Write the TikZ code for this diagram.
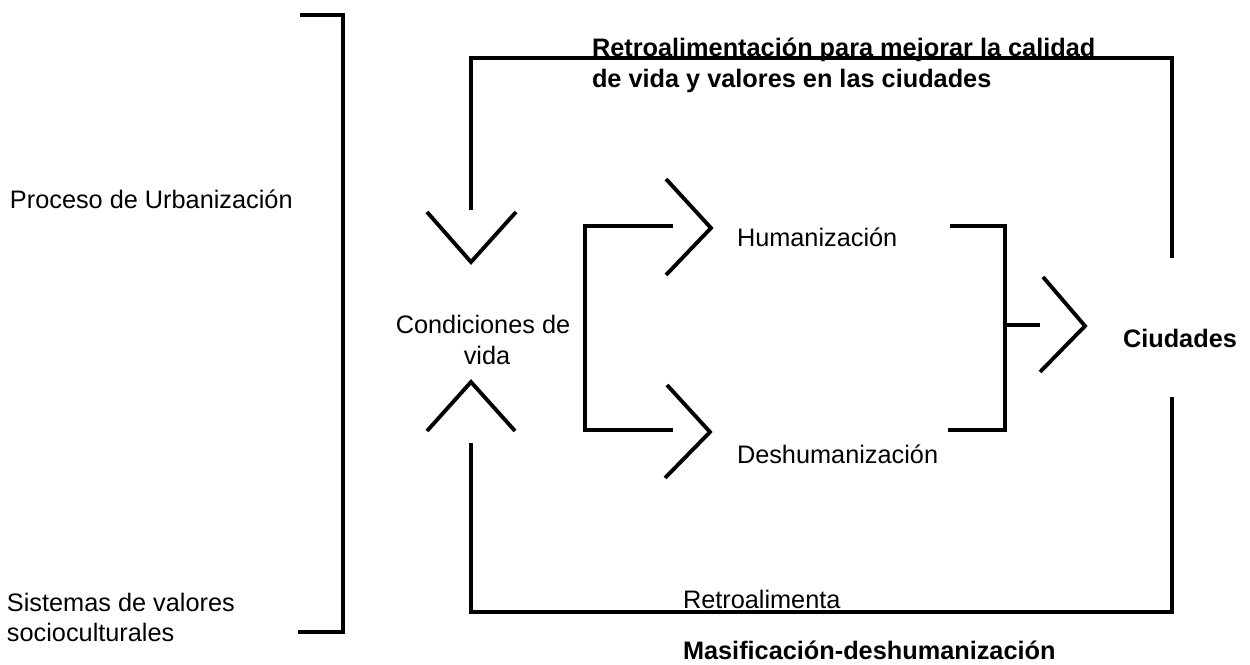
\documentclass[tikz,border=0pt]{standalone}
\usepackage{fontspec}
\setmainfont{Liberation Sans}
\tikzset{
  wire/.style={line width=2.3pt, line join=miter},
  chev/.style={line width=2.2pt, line join=miter},
  lbl/.style={inner sep=0pt, outer sep=0pt, anchor=base west, font=\fontsize{14.4}{17}\selectfont},
  blbl/.style={lbl, font=\fontsize{14.4}{17}\selectfont\bfseries},
}
\begin{document}
\begin{tikzpicture}[x=0.02cm, y=-0.02cm]
\useasboundingbox (0,0) rectangle (1250,665);

% texts
\node[lbl] (proceso) at (10,209) {Proceso de Urbanización};
\node[lbl] (sist1) at (7,611) {Sistemas de valores};
\node[lbl] (sist2) at (7,641) {socioculturales};
\node[lbl, anchor=base] (cond1) at (483,334) {Condiciones de};
\node[lbl, anchor=base] (cond2) at (487,364) {vida};
\node[lbl] (hum) at (737,247) {Humanización};
\node[lbl] (deshum) at (737,463) {Deshumanización};
\node[blbl] (ciud) at (1123,347) {Ciudades};
\node[blbl] (retro1) at (592,56.5) {Retroalimentación para mejorar la calidad};
\node[blbl] (retro2) at (592,88) {de vida y valores en las ciudades};
\node[lbl] (retro3) at (683,608) {Retroalimenta};
\node[blbl] (masif) at (683,659) {Masificación-deshumanización};

% named points
\coordinate (bA) at (300,15);  \coordinate (bB) at (343,15);
\coordinate (bC) at (343,632); \coordinate (bD) at (298,632);

\coordinate (t1) at (471,210); \coordinate (t2) at (471,58);
\coordinate (t3) at (1172,58); \coordinate (t4) at (1172,258);

\coordinate (u1) at (471,443); \coordinate (u2) at (471,612);
\coordinate (u3) at (1172,612); \coordinate (u4) at (1172,397);

\coordinate (s1) at (673,226); \coordinate (s2) at (585,226);
\coordinate (s3) at (585,430); \coordinate (s4) at (673,430);

\coordinate (r1) at (950,226); \coordinate (r2) at (1005,226);
\coordinate (r3) at (1005,430); \coordinate (r4) at (948,430);
\coordinate (r5) at (1005,325); \coordinate (r6) at (1040,325);

% brackets and loops
\draw[wire] (bA) -- (bB) -- (bC) -- (bD);
\draw[wire] (t1) -- (t2) -- (t3) -- (t4);
\draw[wire] (u1) -- (u2) -- (u3) -- (u4);
\draw[wire] (s1) -- (s2) -- (s3) -- (s4);
\draw[wire] (r1) -- (r2) -- (r3) -- (r4);
\draw[wire] (r5) -- (r6);

% chevrons
\draw[chev] (427,212) -- (471,262) -- (516,212);
\draw[chev] (427,431) -- (471,382) -- (515,431);
\draw[chev] (666,179) -- (711,228) -- (666,275);
\draw[chev] (667,385) -- (710,432) -- (665,478);
\draw[chev] (1043,277) -- (1085,326) -- (1040,372);
\end{tikzpicture}
\end{document}
